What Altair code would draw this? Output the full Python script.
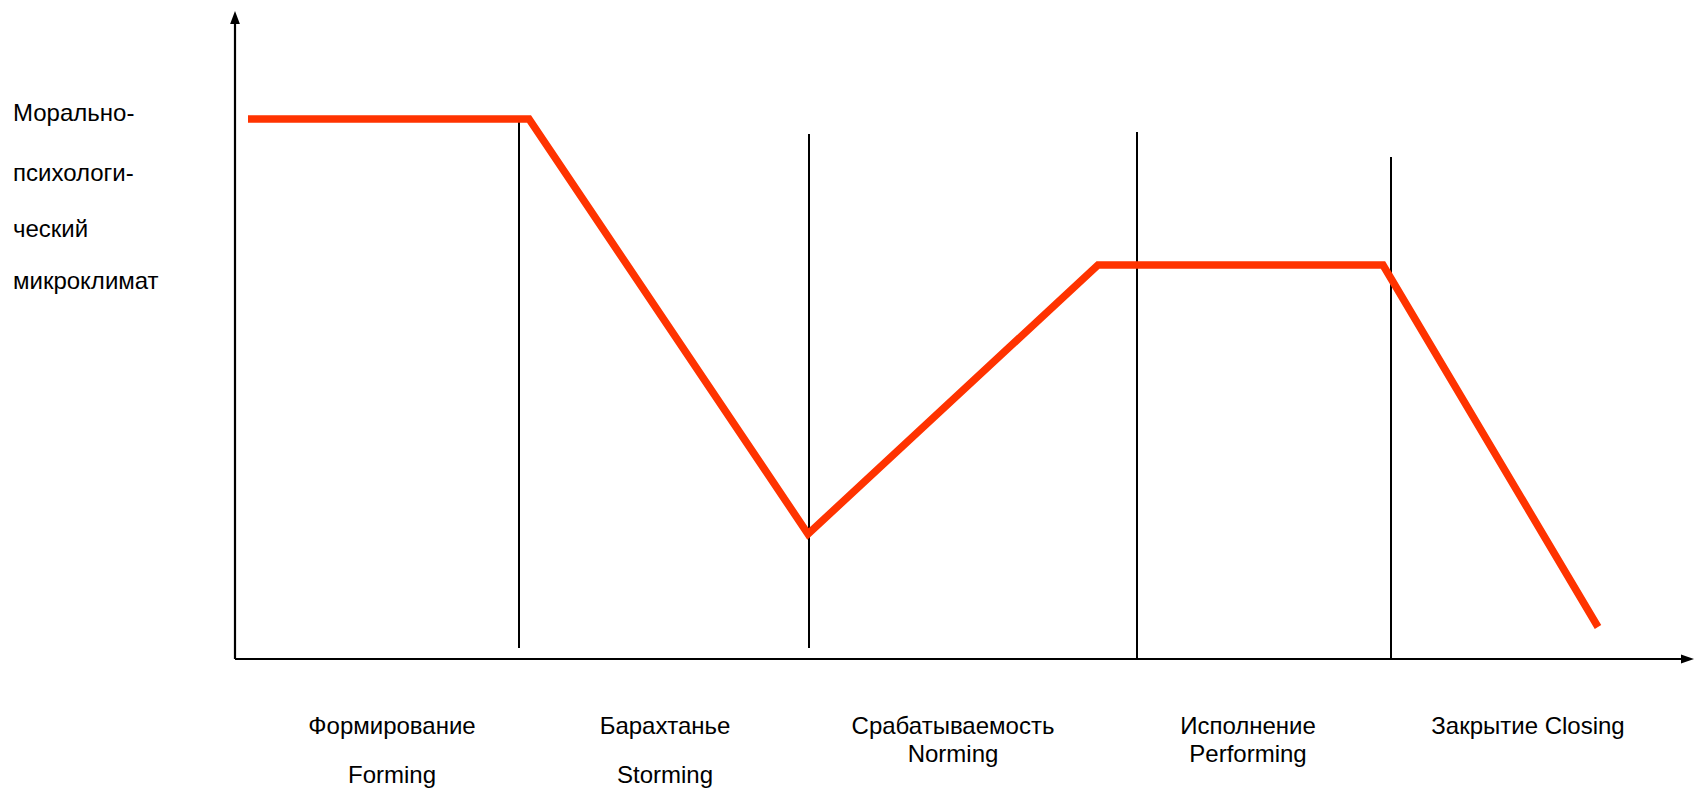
import altair as alt
import pandas as pd

# Red "morale" curve (screen-like units)
curve_x = [248, 529, 808, 1098, 1383, 1598]
curve_y = [119, 119, 534, 265, 265, 627]

# Phase dividers
div_x = [519, 809, 1137, 1391]
div_top = [116, 134, 132, 157]
div_bottom = [648, 648, 659, 659]

# Axes
origin_x, origin_y = 235, 659
yaxis_top = 24
xaxis_end = 1681

# Phase labels
phase_lines = ["Формирование", "Forming", "Барахтанье", "Storming",
               "Срабатываемость", "Norming", "Исполнение", "Performing",
               "Закрытие Closing"]
phase_x = [392, 392, 665, 665, 953, 953, 1248, 1248, 1528]
phase_y = [727, 776, 727, 776, 727, 755, 727, 755, 727]

ylabel_lines = ["Морально-", "психологи-", "ческий", "микроклимат"]
ylabel_x = [13, 13, 13, 13]
ylabel_y = [114, 174, 230, 282]

FONT = "Liberation Sans"
W, H = 1686, 782
xs = alt.Scale(domain=[8, 8 + W])
ys = alt.Scale(domain=[8, 8 + H], reverse=True)

curve = pd.DataFrame({"x": curve_x, "y": curve_y, "i": range(len(curve_x))})
divs = pd.DataFrame({"x": div_x, "y": div_top, "y2": div_bottom})
axes = pd.DataFrame({
    "x": [origin_x, origin_x], "x2": [origin_x, xaxis_end],
    "y": [origin_y, origin_y], "y2": [yaxis_top, origin_y],
})
arrows = pd.DataFrame({
    "x": [origin_x, xaxis_end + 6.5],
    "y": [yaxis_top - 6.5, origin_y],
    "shape": ["M-0.75,1L0,-1L0.75,1Z", "M-1,-0.7L1,0L-1,0.7Z"],
})
phases = pd.DataFrame({"t": phase_lines, "x": phase_x, "y": phase_y})
ylab = pd.DataFrame({"t": ylabel_lines, "x": ylabel_x, "y": ylabel_y})

axis_layer = alt.Chart(axes).mark_rule(color="black", strokeWidth=2.2).encode(
    x=alt.X("x:Q", scale=xs, axis=None), x2="x2:Q",
    y=alt.Y("y:Q", scale=ys, axis=None), y2="y2:Q",
)
arrow_layer = alt.Chart(arrows).mark_point(filled=True, color="black", opacity=1, size=169).encode(
    x=alt.X("x:Q", scale=xs, axis=None),
    y=alt.Y("y:Q", scale=ys, axis=None),
    shape=alt.Shape("shape:N", scale=None, legend=None),
)
div_layer = alt.Chart(divs).mark_rule(color="black", strokeWidth=2).encode(
    x=alt.X("x:Q", scale=xs, axis=None),
    y=alt.Y("y:Q", scale=ys, axis=None), y2="y2:Q",
)
curve_layer = alt.Chart(curve).mark_line(color="#FF3300", strokeWidth=7.5, strokeJoin="miter", strokeCap="butt").encode(
    x=alt.X("x:Q", scale=xs, axis=None),
    y=alt.Y("y:Q", scale=ys, axis=None),
    order="i:Q",
)
phase_layer = alt.Chart(phases).mark_text(font=FONT, fontSize=24, align="center", baseline="middle", color="black").encode(
    x=alt.X("x:Q", scale=xs, axis=None),
    y=alt.Y("y:Q", scale=ys, axis=None),
    text="t:N",
)
ylab_layer = alt.Chart(ylab).mark_text(font=FONT, fontSize=24, align="left", baseline="middle", color="black").encode(
    x=alt.X("x:Q", scale=xs, axis=None),
    y=alt.Y("y:Q", scale=ys, axis=None),
    text="t:N",
)

chart = alt.layer(axis_layer, div_layer, curve_layer, arrow_layer, phase_layer, ylab_layer).properties(
    width=W, height=H, padding=0, autosize=alt.AutoSizeParams(type="none"),
    background="white",
).configure_view(stroke=None)

chart.save("out.html", embed_options={"renderer": "svg", "actions": False})
